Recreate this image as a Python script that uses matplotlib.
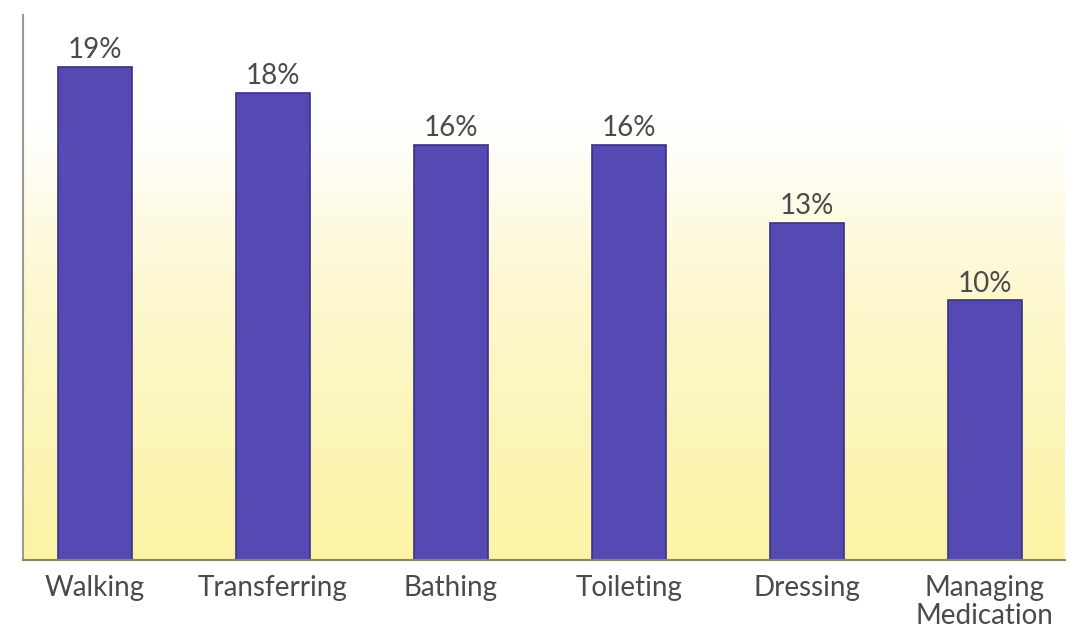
import numpy as np
import matplotlib.pyplot as plt
from matplotlib.colors import LinearSegmentedColormap

categories = ['Walking', 'Transferring', 'Bathing', 'Toileting', 'Dressing', 'Managing\nMedication']
values = [19, 18, 16, 16, 13, 10]
value_labels = ['19%', '18%', '16%', '16%', '13%', '10%']

plt.rcParams['font.family'] = ['Lato', 'DejaVu Sans']
text_color = '#4a4a4a'

fig = plt.figure(figsize=(10.8, 6.35), dpi=100)
ax = fig.add_axes([23 / 1080, 75 / 635, 1042 / 1080, 545 / 635])

# background gradient: white at top to pale yellow at the base
cmap = LinearSegmentedColormap.from_list('bg', [(0, '#fbf3a4'), (0.5, '#fdf8d0'), (0.8, '#ffffff'), (1, '#ffffff')])
grad = np.linspace(0, 1, 256).reshape(-1, 1)
ax.imshow(grad, cmap=cmap, aspect='auto', extent=[0, 1, 0, 1], transform=ax.transAxes,
          origin='lower', zorder=0)

x = np.arange(len(categories))
bars = ax.bar(x, values, width=0.42, color='#5549b4', edgecolor='#3b3180', linewidth=1.2, zorder=2)

for b, lab in zip(bars, value_labels):
    ax.text(b.get_x() + b.get_width() / 2, b.get_height() + 0.15, lab, ha='center', va='bottom',
            fontsize=20, color=text_color, zorder=3)

ax.set_xlim(-0.404, 5.45)
ax.set_ylim(0, 21)
ax.set_xticks(x)
ax.set_xticklabels(categories, fontsize=20, color=text_color, linespacing=1.1)
ax.tick_params(axis='x', length=0, pad=11)
ax.set_yticks([])

for s in ['top', 'right']:
    ax.spines[s].set_visible(False)
ax.spines['left'].set_color('#9a9a90')
ax.spines['left'].set_linewidth(1.5)
ax.spines['bottom'].set_color('#8c8660')
ax.spines['bottom'].set_linewidth(1.5)

fig.savefig('out.png', dpi=100)
